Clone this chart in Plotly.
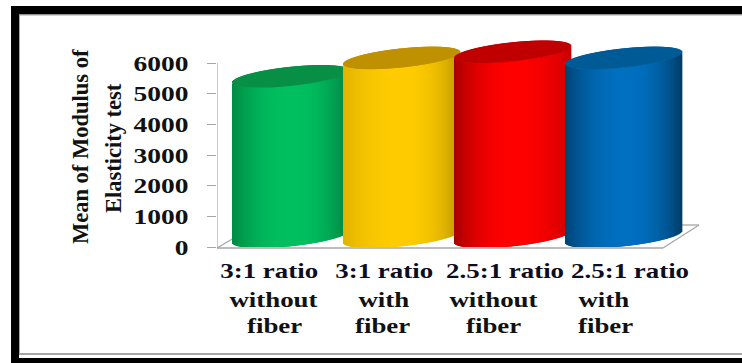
import math
import plotly.graph_objects as go

# Chart data
categories = ["3:1 ratio without fiber", "3:1 ratio with fiber",
              "2.5:1 ratio without fiber", "2.5:1 ratio with fiber"]
modulus_values = [5200, 5800, 6000, 5800]
side_colors = ["#00c060", "#ffcc00", "#ff0000", "#0070c0"]
cap_colors = ["#078f45", "#bf9000", "#c00000", "#005a96"]
left_rim_dark = [0.28, 0.12, 0.35, 0.40]
right_rim_dark = [0.32, 0.25, 0.20, 0.45]
y_ticks = [0, 1000, 2000, 3000, 4000, 5000, 6000]

W, H = 742, 363
PLOT_L, PLOT_R, PLOT_T, PLOT_B = 217, 720, 20, 247
Y0_PX, Y6000_PX = 247, 63
UNITS_PER_PX = 6000 / (Y0_PX - Y6000_PX)
SPACING = 111.0          # px between cylinder centres
FIRST_CENTRE = 291.0
RX = 58.0                # cylinder half width, px
RY = 9.5                 # ellipse half height, px
TILT = 6.0               # ellipse rise towards the right, px
LOW = math.hypot(RY, TILT)
GRAY = "#a6a6a6"


def px(x):
    return x / W


def py(y):
    return 1 - y / H


def shade(color, factor):
    r, g, b = (int(color[i:i + 2], 16) for i in (1, 3, 5))
    return f"rgb({int(r * factor)},{int(g * factor)},{int(b * factor)})"


def side_factor(t, left_dark, right_dark):
    # Cylinder lighting: darker rim on both sides, brightest just right of centre
    d = t - 0.05
    if d < 0:
        return 1 - left_dark * min(1, (-d / 1.05)) ** 2.2
    return 1 - right_dark * min(1, (d / 0.95)) ** 2.2


fig = go.Figure()

steps = int(2 * RX)
for i, value in enumerate(modulus_values):
    ts = [-1 + 2 * (s + 0.5) / steps for s in range(steps)]
    xs = [i + t * RX / SPACING for t in ts]
    top_c = value + LOW * UNITS_PER_PX
    bot_c = LOW * UNITS_PER_PX - 1 * UNITS_PER_PX
    curve = [RY * math.sqrt(1 - t * t) * UNITS_PER_PX for t in ts]
    rise = [TILT * t * UNITS_PER_PX for t in ts]
    wall_base = [bot_c + r - c for r, c in zip(rise, curve)]
    wall_top = [top_c + r - c for r, c in zip(rise, curve)]
    wall_colors = [shade(side_colors[i], side_factor(t, left_rim_dark[i], right_rim_dark[i])) for t in ts]
    fig.add_trace(go.Bar(
        x=xs, y=[a - b for a, b in zip(wall_top, wall_base)], base=wall_base,
        width=1.7 / SPACING, marker=dict(color=wall_colors, line_width=0),
        hoverinfo="skip", showlegend=False, name=categories[i]))
    fig.add_trace(go.Bar(
        x=xs, y=[2 * c for c in curve], base=wall_top,
        width=1.7 / SPACING, marker=dict(color=cap_colors[i], line_width=0),
        hoverinfo="skip", showlegend=False))

x_left = (PLOT_L - FIRST_CENTRE) / SPACING
x_right = (PLOT_R - FIRST_CENTRE) / SPACING

# Value axis line stops at the top tick
fig.add_trace(go.Scatter(x=[x_left, x_left], y=[y_ticks[0], y_ticks[-1]], mode="lines",
                         line=dict(color=GRAY, width=1.2), hoverinfo="skip",
                         showlegend=False, cliponaxis=False))

shapes = []
# Outer frame
for x0, y0, x1, y1 in [(11, 6, 742, 14.5), (11, 6, 19, 363), (11, 358, 742, 363)]:
    shapes.append(dict(type="rect", xref="paper", yref="paper", x0=px(x0), x1=px(x1),
                       y0=py(y0), y1=py(y1), fillcolor="#000000", line_width=0))
for x0, y0, x1, y1 in [(19, 15, 742, 15), (19.5, 15, 19.5, 354), (19, 354, 742, 354)]:
    shapes.append(dict(type="line", xref="paper", yref="paper", x0=px(x0), x1=px(x1),
                       y0=py(y0), y1=py(y1), line=dict(color=GRAY, width=2 if y0 == 354 else 1)))
# Chart floor outline
for x0, y0, x1, y1 in [(217, 248, 663, 248), (663, 248, 699, 225), (699, 225, 671, 225), (217, 248, 234, 238)]:
    shapes.append(dict(type="line", xref="paper", yref="paper", x0=px(x0), x1=px(x1),
                       y0=py(y0), y1=py(y1), layer="below", line=dict(color=GRAY, width=1.3)))

SERIF = "Liberation Serif"
annotations = []


def label(text, x, y, size, color="#111111", angle=0):
    annotations.append(dict(text=f"<b>{text}</b>", xref="paper", yref="paper", x=px(x), y=py(y),
                            xanchor="center", yanchor="middle", showarrow=False, textangle=angle,
                            font=dict(family=SERIF, size=size, color=color)))


# Rotated value-axis title, two lines
label("Mean of Modulus of", 80, 147, 22.5, angle=-90)
label("Elasticity test", 113, 148, 22.5, angle=-90)

# Category labels, one annotation per text line
x_labels = [("3:1 ratio", 269, 271), ("without", 273, 300), ("fiber", 274, 326),
            ("3:1 ratio", 384, 271), ("with", 384, 300), ("fiber", 383, 326),
            ("2.5:1 ratio", 505, 271), ("without", 494, 300), ("fiber", 494, 326),
            ("2.5:1 ratio", 630, 271), ("with", 604, 300), ("fiber", 605, 326)]
for text, x, y in x_labels:
    label(text, x, y, 21, color="#0d0d20" if "ratio" in text else "#111111")

fig.update_layout(
    width=W, height=H, autosize=False, barmode="overlay",
    margin=dict(l=0, r=0, t=0, b=0), paper_bgcolor="white", plot_bgcolor="white",
    shapes=shapes, annotations=annotations, showlegend=False,
    xaxis=dict(domain=[px(PLOT_L), px(PLOT_R)], range=[x_left, x_right], visible=False, automargin=False),
    yaxis=dict(domain=[py(PLOT_B), py(PLOT_T)],
               range=[0, (Y0_PX - PLOT_T) * UNITS_PER_PX], automargin=False,
               tickmode="array", tickvals=y_ticks, ticks="outside", ticklen=9,
               tickcolor=GRAY, tickwidth=1.2, showgrid=False, zeroline=False, showline=False,
               ticklabelstandoff=14,
               tickfont=dict(family=SERIF, size=22, color="#111111", weight="bold")),
)

# The labels are set wide: stretch the horizontal ones along their baseline
WIDEN_TEXT = """
var widen = function (node, factor) {
  var length = node.getComputedTextLength();
  node.setAttribute('textLength', length * factor);
  node.setAttribute('lengthAdjust', 'spacingAndGlyphs');
};
document.querySelectorAll('.ytick text').forEach(function (t) { widen(t, 1.25); });
document.querySelectorAll('.annotation-text').forEach(function (t) {
  if (!/Mean|Elasticity/.test(t.textContent)) { widen(t, 1.28); }
});
"""

fig.write_html("out.html", post_script=WIDEN_TEXT)
